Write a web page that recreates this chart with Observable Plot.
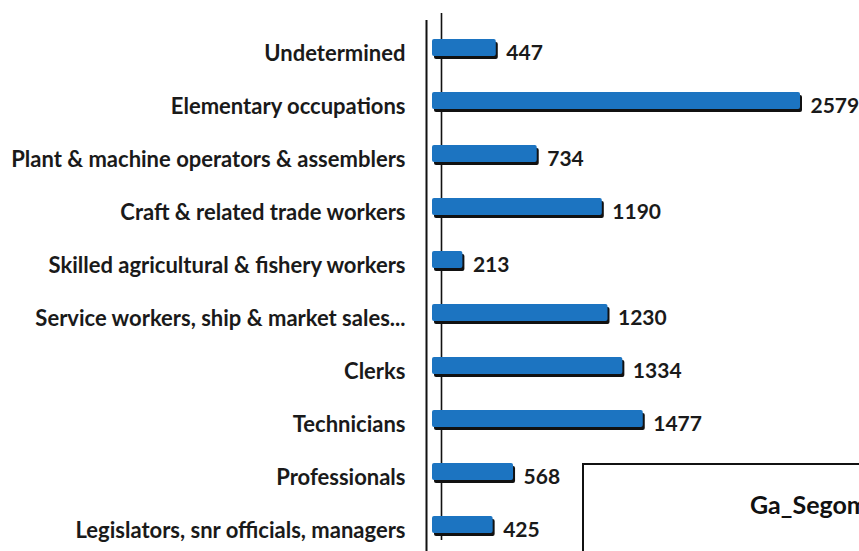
<!DOCTYPE html>
<html><head><meta charset="utf-8">
<script src="https://cdn.jsdelivr.net/npm/d3@7"></script>
<script src="https://cdn.jsdelivr.net/npm/@observablehq/plot@0.6"></script>
<style>
html,body{margin:0;padding:0;background:#fff;overflow:hidden;width:859px;height:551px;}
#wrap{position:relative;width:859px;height:551px;}
#box{position:absolute;left:582px;top:463px;width:320px;height:120px;border:2px solid #111;border-right:none;box-sizing:border-box;background:#fff;}
#box span{position:absolute;left:166px;top:24px;font:bold 25px Lato, sans-serif;color:#111;white-space:nowrap;}
</style>
</head><body><div id="wrap"></div>
<script>
const categories = ["Undetermined","Elementary occupations","Plant & machine operators & assemblers","Craft & related trade workers","Skilled agricultural & fishery workers","Service workers, ship & market sales...","Clerks","Technicians","Professionals","Legislators, snr officials, managers"];
const values = [447,2579,734,1190,213,1230,1334,1477,568,425];
const boxTitle = "Ga_Segoma";
const data = categories.map((c,i)=>({cat:c,val:values[i]}));

const chart = Plot.plot({
  width: 859, height: 551,
  marginLeft: 432, marginRight: 59, marginTop: 0, marginBottom: 0,
  style:{fontFamily:"Lato, sans-serif", background:"transparent"},
  x:{domain:[0,2579], range:[432,800], axis:null},
  y:{domain:categories, range:[19.3,552.7], paddingInner:0.68, paddingOuter:0.34, axis:null},
  marks:[
    Plot.ruleX([0],{dx:-6, stroke:"#111", strokeWidth:2, insetTop:20}),
    Plot.ruleX([0],{dx:9, stroke:"#111", strokeWidth:1.6, insetTop:13, insetBottom:11}),
    Plot.barX(data,{x:"val", y:"cat", fill:"#111", dx:2, dy:3, rx:2}),
    Plot.barX(data,{x:"val", y:"cat", fill:"#1c74c1", rx:2}),
    Plot.text(data,{x:"val", y:"cat", text:d=>String(d.val), textAnchor:"start", dx:10, dy:5, fontSize:21, fontWeight:"bold", fill:"#1a1a1a"}),
    Plot.text(data,{x:0, y:"cat", text:"cat", textAnchor:"end", dx:-27, dy:6, fontSize:22, fontWeight:"bold", fill:"#1a1a1a"})
  ]
});
const wrap = document.getElementById("wrap");
wrap.appendChild(chart);
const box = document.createElement("div");
box.id="box";
const sp = document.createElement("span"); sp.textContent = boxTitle; box.appendChild(sp);
wrap.appendChild(box);
</script>
</body></html>
